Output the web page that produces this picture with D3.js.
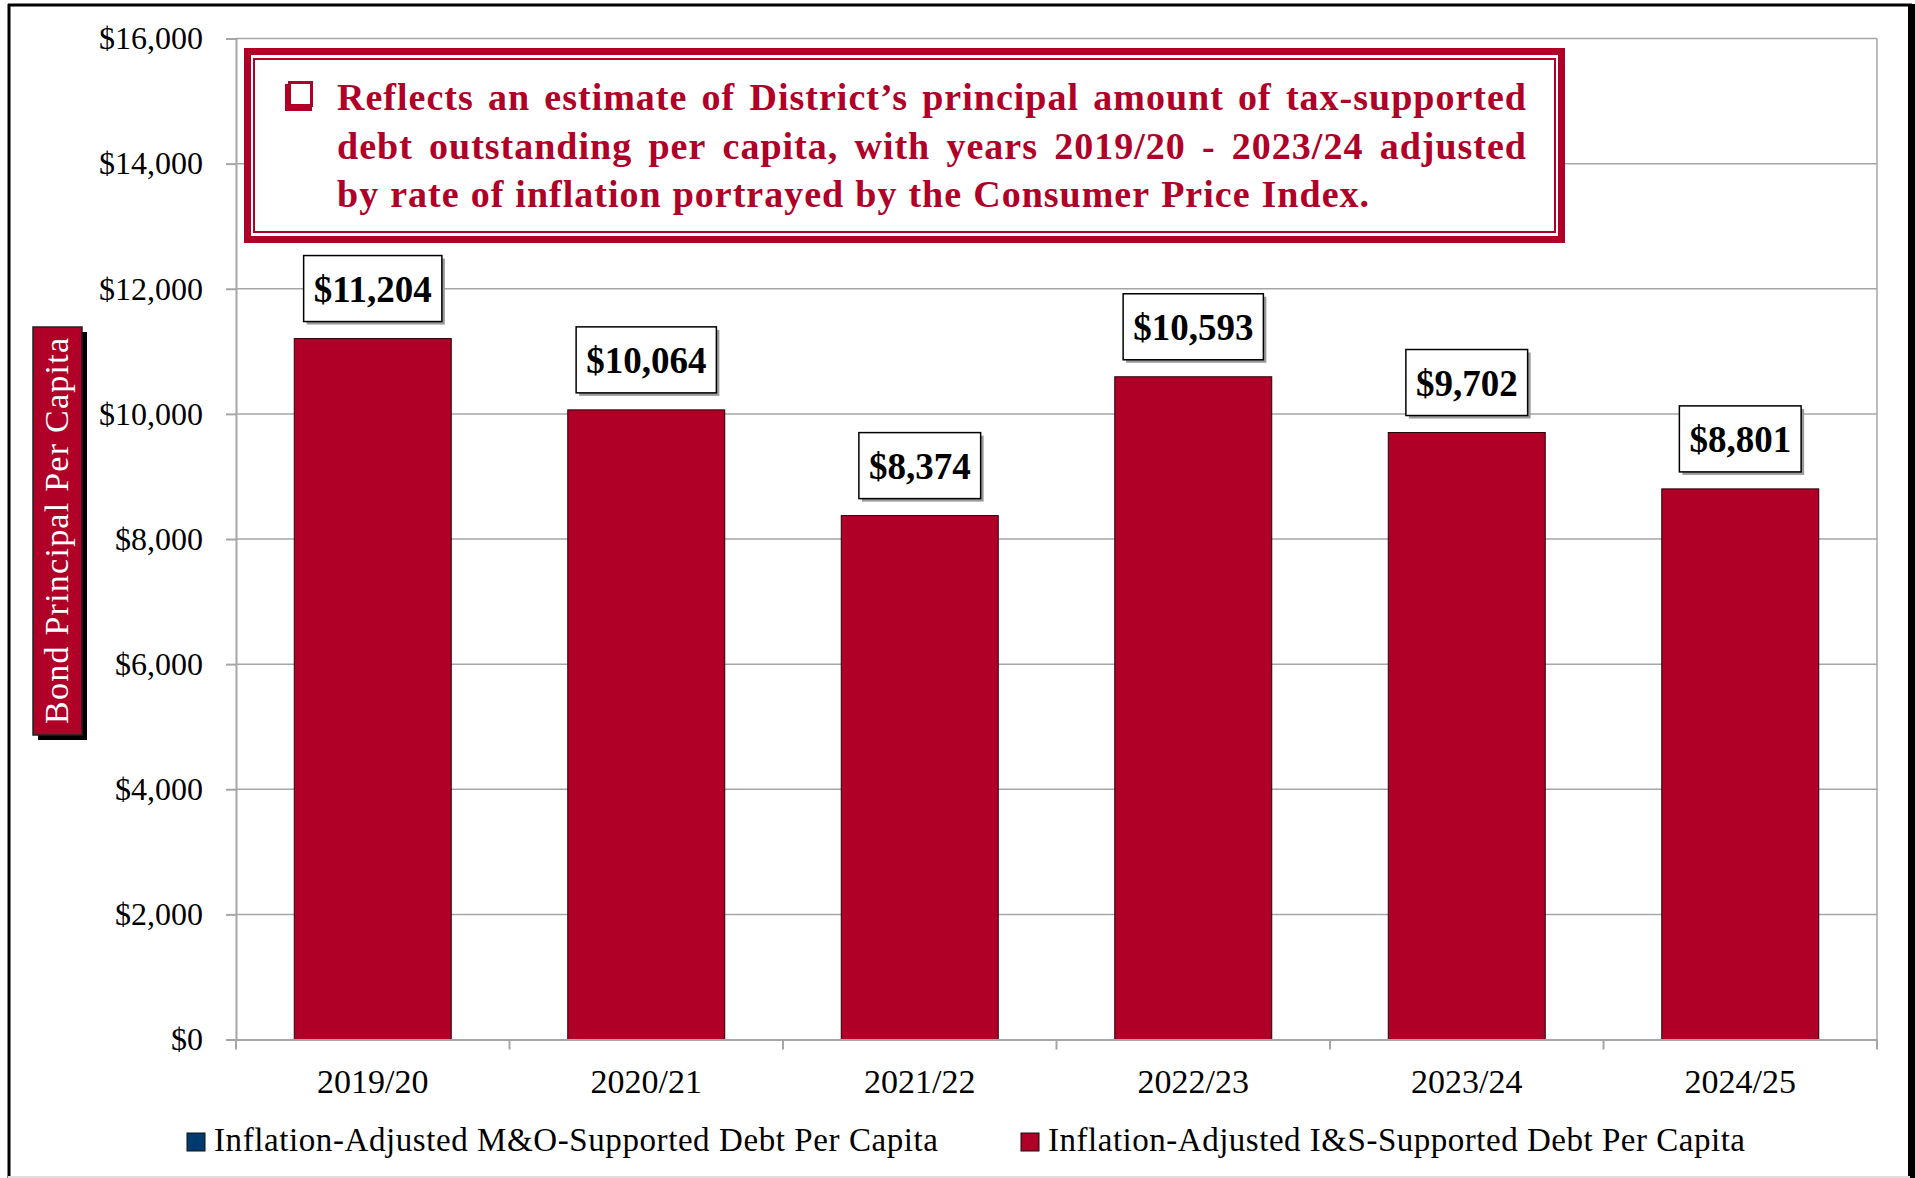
<!DOCTYPE html>
<meta charset="utf-8">
<script src="https://d3js.org/d3.v7.min.js"></script>
<style>
  body { margin: 0; background: #fff; }
  text { font-family: "Liberation Serif", "DejaVu Serif", serif; }
</style>
<div id="viz"></div>
<script>

// chart values
var years = ["2019/20", "2020/21", "2021/22", "2022/23", "2023/24", "2024/25"];
var perCapita = [11204, 10064, 8374, 10593, 9702, 8801];
var yTicks = [0, 2000, 4000, 6000, 8000, 10000, 12000, 14000, 16000];
var seriesNames = ["Inflation-Adjusted M&O-Supported Debt Per Capita",
                   "Inflation-Adjusted I&S-Supported Debt Per Capita"];
var yTitle = "Bond Principal Per Capita";
var noteLines = [
  "Reflects an estimate of District\u2019s principal amount of tax-supported",
  "debt outstanding per capita, with years 2019/20 - 2023/24 adjusted",
  "by rate of inflation portrayed by the Consumer Price Index."
];

var crimson = "#b00028";
var navy = "#003a6e";
var grid = "#a6a6a6";
var legendColors = [navy, crimson];

var W = 1915, H = 1178;
var plot = {left: 236, right: 1877, top: 38.5, bottom: 1039.5};

var svg = d3.select("#viz")
  .append("svg")
    .attr("width", W)
    .attr("height", H);

svg.append("rect").attr("width", W).attr("height", H).attr("fill", "#fff");

// outer frame
svg.append("line").attr("x1", 8).attr("x2", 1912).attr("y1", 5).attr("y2", 5)
  .attr("stroke", "#000").attr("stroke-width", 3);
svg.append("line").attr("x1", 9).attr("x2", 9).attr("y1", 4).attr("y2", H)
  .attr("stroke", "#000").attr("stroke-width", 3);
svg.append("line").attr("x1", 1911.5).attr("x2", 1911.5).attr("y1", 4).attr("y2", H)
  .attr("stroke", "#000").attr("stroke-width", 7);
svg.append("line").attr("x1", 8).attr("x2", 1910).attr("y1", 1177).attr("y2", 1177)
  .attr("stroke", "#ddd").attr("stroke-width", 2);

// scales
var x = d3.scaleBand()
  .domain(years)
  .range([plot.left, plot.right])
  .paddingInner(0.426)
  .paddingOuter(0.213);

var y = d3.scaleLinear()
  .domain([0, 16000])
  .range([plot.bottom, plot.top]);

// gridlines
svg.append("g")
  .selectAll("line")
  .data(yTicks.filter(d => d > 0))
  .join("line")
    .attr("x1", plot.left).attr("x2", plot.right)
    .attr("y1", d => y(d)).attr("y2", d => y(d))
    .attr("stroke", grid).attr("stroke-width", 1.5);
svg.append("line")
  .attr("x1", plot.right).attr("x2", plot.right)
  .attr("y1", plot.top).attr("y2", plot.bottom)
  .attr("stroke", grid).attr("stroke-width", 1.5);

// Y axis
var yAxis = svg.append("g")
  .attr("transform", "translate(" + plot.left + ",0)")
  .call(d3.axisLeft(y)
    .tickValues(yTicks)
    .tickFormat(d => "$" + d3.format(",")(d))
    .tickSize(10)
    .tickPadding(23)
    .tickSizeOuter(0));
yAxis.select(".domain").attr("stroke", grid).attr("stroke-width", 2);
yAxis.selectAll(".tick line").attr("stroke", grid).attr("stroke-width", 2);
yAxis.selectAll(".tick text")
  .attr("font-family", "Liberation Serif")
  .attr("font-size", 32)
  .attr("fill", "#000");

// bars
svg.append("g")
  .selectAll("rect")
  .data(perCapita)
  .join("rect")
    .attr("x", (d, i) => x(years[i]))
    .attr("y", d => y(d))
    .attr("width", x.bandwidth())
    .attr("height", d => y(0) - y(d))
    .attr("fill", crimson)
    .attr("stroke", "#2a0008")
    .attr("stroke-width", 1);

// X axis (labels) + boundary ticks
var xAxis = svg.append("g")
  .attr("transform", "translate(0," + plot.bottom + ")")
  .call(d3.axisBottom(x).tickSize(0).tickPadding(29).tickSizeOuter(0));
xAxis.select(".domain").attr("stroke", grid).attr("stroke-width", 2);
xAxis.selectAll(".tick text")
  .attr("font-family", "Liberation Serif")
  .attr("font-size", 34)
  .attr("fill", "#000");

var bounds = years.map(d => x(d) - x.step() * x.paddingOuter()).concat([plot.right]);
svg.append("g")
  .selectAll("line")
  .data(bounds)
  .join("line")
    .attr("x1", d => d).attr("x2", d => d)
    .attr("y1", plot.bottom).attr("y2", plot.bottom + 10)
    .attr("stroke", grid).attr("stroke-width", 2);

// value labels
var fmt = d => "$" + d3.format(",")(d);
var lab = svg.append("g")
  .selectAll("g")
  .data(perCapita)
  .join("g")
    .attr("transform", (d, i) => "translate(" + (x(years[i]) + x.bandwidth() / 2) + "," + (y(d) - 17) + ")");

lab.each(function(d) {
  var g = d3.select(this);
  var t = g.append("text")
    .attr("text-anchor", "middle")
    .attr("y", -20)
    .attr("font-size", 37)
    .attr("font-weight", "bold")
    .attr("fill", "#000")
    .text(fmt(d));
  var w = t.node().getComputedTextLength() + 20;
  g.insert("rect", "text")
    .attr("x", -w / 2 + 3).attr("y", -66 + 3)
    .attr("width", w).attr("height", 66)
    .attr("fill", "#9a9a9a");
  g.insert("rect", "text")
    .attr("x", -w / 2).attr("y", -66)
    .attr("width", w).attr("height", 66)
    .attr("fill", "#fff")
    .attr("stroke", "#000")
    .attr("stroke-width", 1.5);
});

// Y axis title box
var tb = {x: 33, y: 327, w: 49, h: 408};
svg.append("rect")
  .attr("x", tb.x + 5).attr("y", tb.y + 5)
  .attr("width", tb.w).attr("height", tb.h)
  .attr("fill", "#000");
svg.append("rect")
  .attr("x", tb.x).attr("y", tb.y)
  .attr("width", tb.w).attr("height", tb.h)
  .attr("fill", crimson)
  .attr("stroke", "#222").attr("stroke-width", 1.5);
svg.append("text")
  .attr("transform", "translate(" + (tb.x + tb.w / 2 + 10) + "," + (tb.y + tb.h / 2) + ") rotate(-90)")
  .attr("text-anchor", "middle")
  .attr("font-size", 34)
  .attr("fill", "#fff")
  .attr("textLength", 386)
  .text(yTitle);

// note box
var nb = {x: 244, y: 48, w: 1321, h: 195};
svg.append("rect")
  .attr("x", nb.x + 3.5).attr("y", nb.y + 3.5)
  .attr("width", nb.w - 7).attr("height", nb.h - 7)
  .attr("fill", "#fff")
  .attr("stroke", crimson).attr("stroke-width", 7);
svg.append("rect")
  .attr("x", nb.x + 10).attr("y", nb.y + 11)
  .attr("width", nb.w - 20).attr("height", nb.h - 22)
  .attr("fill", "none")
  .attr("stroke", crimson).attr("stroke-width", 2);

// checkbox bullet
svg.append("rect")
  .attr("x", 285).attr("y", 84).attr("width", 27).attr("height", 27)
  .attr("fill", crimson);
svg.append("rect")
  .attr("x", 289.5).attr("y", 82.5).attr("width", 22).attr("height", 23)
  .attr("fill", "#fff")
  .attr("stroke", crimson).attr("stroke-width", 3);

// justified note lines
var lineRight = [1527, 1527, 1370];
var noteG = svg.append("g");
noteLines.forEach(function(line, li) {
  var words = line.split(" ");
  var base = 110 + li * 48.5;
  var tmp = noteG.selectAll(null)
    .data(words)
    .join("text")
      .attr("y", base)
      .attr("font-size", 38)
      .attr("font-weight", "bold")
      .attr("letter-spacing", 1)
      .attr("fill", crimson)
      .text(d => d);
  var widths = [];
  tmp.each(function() { widths.push(this.getComputedTextLength()); });
  var total = d3.sum(widths);
  var gap = (lineRight[li] - 337 - total) / (words.length - 1);
  var cx = 337;
  tmp.attr("x", function(d, i) { var v = cx; cx += widths[i] + gap; return v; });
});

// legend
var legX = [187, 1021];
var legLen = [724, 697];
var leg = svg.append("g")
  .selectAll("g")
  .data(seriesNames)
  .join("g")
    .attr("transform", (d, i) => "translate(" + legX[i] + ",1133)");
leg.append("rect")
  .attr("width", 18).attr("height", 18)
  .attr("fill", (d, i) => legendColors[i])
  .attr("stroke", "#111").attr("stroke-width", 1);
leg.append("text")
  .attr("x", 27).attr("y", 18)
  .attr("font-size", 33)
  .attr("fill", "#000")
  .attr("textLength", (d, i) => legLen[i])
  .text(d => d);

</script>
